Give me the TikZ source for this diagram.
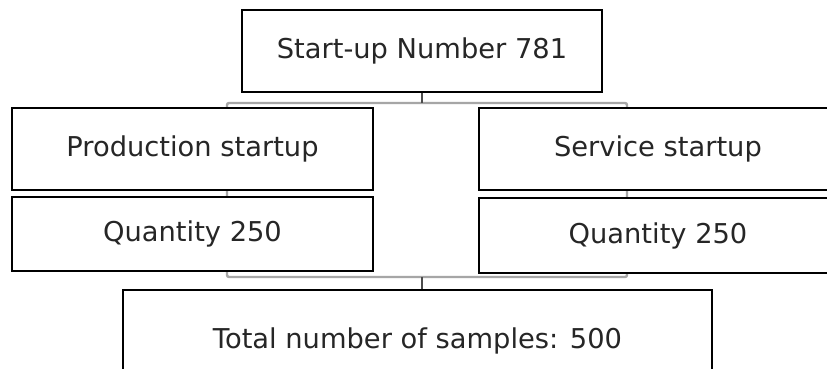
\documentclass[tikz,border=0pt]{standalone}
\usepackage{fontspec}
\setmainfont{DejaVu Sans}
\begin{document}
\begin{tikzpicture}[x=1pt,y=-1pt,
  box/.style={draw=black,line width=1.3pt,fill=white,rectangle,inner sep=0pt,
    font=\fontsize{27.3}{30}\selectfont,text=black!85},
  bracket/.style={draw=black!35,line width=2.4pt,rounded corners=2pt},
  tick/.style={draw=black!70,line width=1.6pt}]
\useasboundingbox (0,0) rectangle (827,369);
\clip (0,0) rectangle (827,369);
\fill[white] (0,0) rectangle (827,369);
% gray bracket frame behind the boxes
\coordinate (tl) at (227,103);
\coordinate (br) at (627,277);
\coordinate (tm) at (422,103);
\coordinate (bm) at (422,277);
\draw[bracket] (tl) rectangle (br);
% boxes
\node[box,minimum width=360pt,minimum height=82pt] (top) at (422,51) {Start-up Number 781};
\node[box,minimum width=361pt,minimum height=82pt] (prod) at (192.5,149) {Production startup};
\node[box,minimum width=361pt,minimum height=74pt] (pq) at (192.5,234) {Quantity 250};
\node[box,minimum width=358pt,minimum height=82pt] (serv) at (658,149) {Service startup};
\node[box,minimum width=358pt,minimum height=75pt] (sq) at (658,235.5) {Quantity 250};
\node[box,minimum width=589pt,minimum height=120pt,text depth=0pt] (tot) at (417.5,350) {};
\node[font=\fontsize{27.3}{30}\selectfont,text=black!85] (totl) at (417.5,341) {Total number of samples: 500};
% ticks
\draw[tick] (top.south) -- (tm);
\draw[tick] (bm) -- (bm |- tot.north);
\end{tikzpicture}
\end{document}
